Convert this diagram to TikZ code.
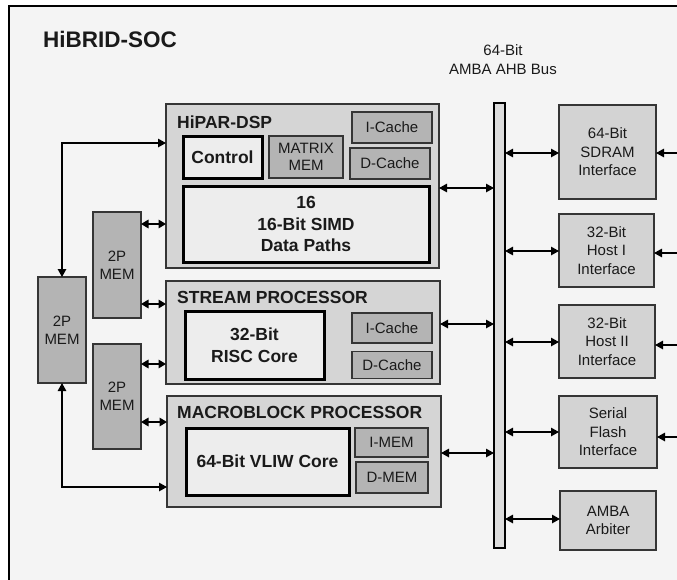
\documentclass[tikz,border=0pt]{standalone}
\usepackage{fontspec}
\setmainfont{Liberation Sans}
\usetikzlibrary{arrows.meta}
\definecolor{framebg}{HTML}{F4F4F4}
\definecolor{procfill}{HTML}{D5D5D5}
\definecolor{memfill}{HTML}{B4B4B4}
\definecolor{corefill}{HTML}{EDEDED}
\definecolor{iffill}{HTML}{D3D3D3}
\definecolor{busfill}{HTML}{DCDCDC}
\definecolor{boxline}{HTML}{353535}
\definecolor{txt}{HTML}{1A1A1A}
\newcommand\myfs[2]{\fontsize{#1}{#2}\selectfont}
\begin{document}
\begin{tikzpicture}[x=1pt,y=-1pt,
  box/.style={draw=boxline, line width=1.3pt, inner sep=0pt, outer sep=0pt, align=center, text=txt, font=\myfs{15}{18.5}},
  proc/.style={box, fill=procfill, line width=1.1pt},
  memb/.style={box, fill=memfill},
  core/.style={box, draw=black, line width=3pt, fill=corefill, font=\myfs{17.5}{21.5}\bfseries},
  iface/.style={box, fill=iffill},
  ptitle/.style={anchor=base west, inner sep=0pt, text=txt, font=\myfs{17.5}{21}\bfseries},
  bi/.style={{Triangle[length=8pt,width=8.5pt]}-{Triangle[length=8pt,width=8.5pt]}, line width=1.2pt},
  bim/.style={{Triangle[length=7.5pt,width=8.5pt]}-{Triangle[length=7.5pt,width=8.5pt]}, line width=1.6pt},
  lone/.style={-{Triangle[length=8pt,width=8.5pt]}, line width=1.2pt}
]
\useasboundingbox (0,0) rectangle (677,579);
\clip (0,0) rectangle (677,579);
\fill[white] (0,0) rectangle (677,579);
\draw[line width=1.5pt, fill=framebg] (9,6) rectangle (720,620);

% titles
\node[anchor=base west, inner sep=0pt, text=txt, font=\myfs{22.5}{26}\bfseries] (title) at (43,47) {HiBRID-SOC};
\node[anchor=base, inner sep=0pt, text=txt, font=\myfs{15}{19}] (buslab1) at (503,55) {64-Bit};
\node[anchor=base, inner sep=0pt, text=txt, font=\myfs{15}{19}] (buslab2) at (503,74) {AMBA AHB Bus};

% bus
\node[box, fill=busfill, line width=1.3pt, draw=black, minimum width=11, minimum height=445] (bus) at (499.5,325.5) {};

% HiPAR-DSP
\node[proc, minimum width=273, minimum height=164] (dsp) at (302.5,186) {};
\node[ptitle] (dsptitle) at (177,128) {HiPAR-DSP};
\node[core, minimum width=79, minimum height=42] (ctrl) at (222.5,157) {Control};
\node[memb, minimum width=74, minimum height=42, font=\myfs{15}{17}] (matrix) at (306,157) {MATRIX\\MEM};
\node[memb, minimum width=80, minimum height=31] (ic1) at (392,127.5) {I-Cache};
\node[memb, minimum width=80, minimum height=31] (dc1) at (390,163.5) {D-Cache};
\node[core, minimum width=246, minimum height=76] (simd) at (306,224) {16\\16-Bit SIMD\\Data Paths};

% STREAM PROCESSOR
\node[proc, minimum width=274, minimum height=103] (stream) at (303,332.5) {};
\node[ptitle] (streamtitle) at (177,303) {STREAM PROCESSOR};
\node[core, minimum width=139, minimum height=68, font=\myfs{17.5}{22}\bfseries] (risc) at (254.5,345) {32-Bit\\RISC Core};
\node[memb, minimum width=80, minimum height=30] (ic2) at (392,328) {I-Cache};
\node[memb, minimum width=80, minimum height=27] (dc2) at (392,365) {D-Cache};

% MACROBLOCK PROCESSOR
\node[proc, minimum width=274, minimum height=111] (macro) at (304,451.5) {};
\node[ptitle] (macrotitle) at (177,418) {MACROBLOCK PROCESSOR};
\node[core, minimum width=163, minimum height=67] (vliw) at (267.5,461.5) {64-Bit VLIW Core};
\node[memb, minimum width=73, minimum height=29] (imem) at (391.5,442.5) {I-MEM};
\node[memb, minimum width=72, minimum height=31] (dmem) at (392,477.5) {D-MEM};

% 2P MEMs
\node[memb, minimum width=48, minimum height=106, font=\myfs{15}{18}] (mema) at (117,265) {2P\\MEM};
\node[memb, minimum width=48, minimum height=105, font=\myfs{15}{18}] (memb) at (117,396.5) {2P\\MEM};
\node[memb, minimum width=48, minimum height=106, font=\myfs{15}{18}] (memc) at (62,330) {2P\\MEM};

% interfaces
\node[iface, minimum width=97, minimum height=94] (sdram) at (607.5,152) {64-Bit\\SDRAM\\Interface};
\node[iface, minimum width=95, minimum height=73] (host1) at (606.5,250.5) {32-Bit\\Host I\\Interface};
\node[iface, minimum width=96, minimum height=73] (host2) at (607,341.5) {32-Bit\\Host II\\Interface};
\node[iface, minimum width=98, minimum height=72] (flash) at (608,432) {Serial\\Flash\\Interface};
\node[iface, minimum width=96, minimum height=59] (arb) at (608,520.5) {AMBA\\Arbiter};

% levels
\coordinate (yDSP) at (0,188);
\coordinate (ySTR) at (0,324);
\coordinate (yMAC) at (0,453);
\coordinate (yA1) at (0,224);
\coordinate (yA2) at (0,304);
\coordinate (yB1) at (0,364);
\coordinate (yB2) at (0,422);
\coordinate (yTop) at (0,143);
\coordinate (yBot) at (0,487);
\coordinate (yS) at (0,153);
\coordinate (yH1) at (0,251);
\coordinate (yH2) at (0,342);
\coordinate (yF) at (0,432);
\coordinate (yAr) at (0,519);
\coordinate (rS) at (685,153);
\coordinate (rH1) at (685,253);
\coordinate (rH2) at (685,345);
\coordinate (rF) at (700,437);

% processor <-> bus
\draw[bi] (dsp.east |- yDSP) -- (bus.west |- yDSP);
\draw[bi] (stream.east |- ySTR) -- (bus.west |- ySTR);
\draw[bi] (macro.east |- yMAC) -- (bus.west |- yMAC);

% bus <-> interfaces
\draw[bi] (bus.east |- yS) -- (sdram.west |- yS);
\draw[bi] (bus.east |- yH1) -- (host1.west |- yH1);
\draw[bi] (bus.east |- yH2) -- (host2.west |- yH2);
\draw[bi] (bus.east |- yF) -- (flash.west |- yF);
\draw[bi] (bus.east |- yAr) -- (arb.west |- yAr);

% external
\draw[bi] (sdram.east |- rS) -- (rS);
\draw[bi] (host1.east |- rH1) -- (rH1);
\draw[bi] (host2.east |- rH2) -- (rH2);
\draw[lone] (rF) -- (flash.east |- rF);

% 2P MEM <-> processors
\draw[bim] (mema.east |- yA1) -- (dsp.west |- yA1);
\draw[bim] (mema.east |- yA2) -- (stream.west |- yA2);
\draw[bim] (memb.east |- yB1) -- (stream.west |- yB1);
\draw[bim] (memb.east |- yB2) -- (macro.west |- yB2);

% big MEM
\draw[bi] (memc.north) |- (dsp.west |- yTop);
\draw[bi] (memc.south) |- (macro.west |- yBot);
\end{tikzpicture}
\end{document}
